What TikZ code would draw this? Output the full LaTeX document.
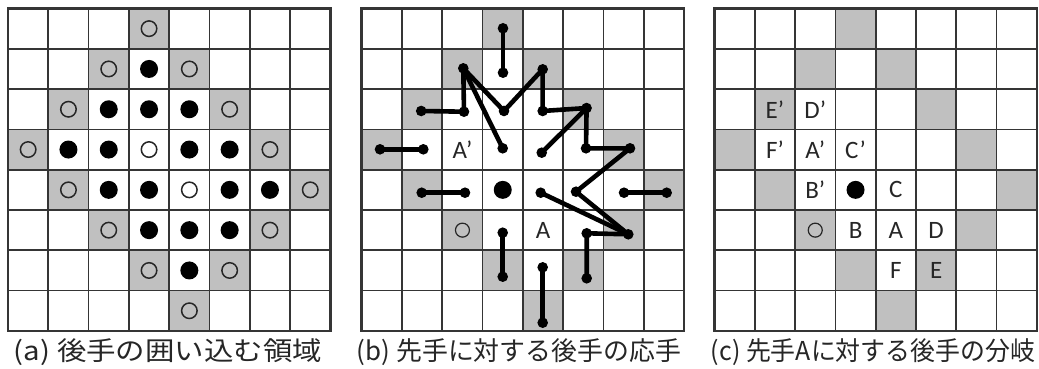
\documentclass[tikz,border=0pt]{standalone}
\usepackage{graphicx}
\usepackage{fontspec}
\setmainfont{Carlito}
\newfontfamily\cjk{Noto Sans CJK JP}
\definecolor{cellgray}{HTML}{C0C0C0}
\definecolor{gridcol}{HTML}{353535}
\tikzset{
  gridline/.style={draw=gridcol, line width=1.7pt},
  frameline/.style={draw=gridcol, line width=2.5pt},
  graycell/.style={fill=cellgray},
  opencirc/.style={circle, draw=black!85, line width=1.5pt, inner sep=0pt, minimum size=15.5pt},
  smallopen/.style={circle, draw=black!85, line width=1.2pt, inner sep=0pt, minimum size=14pt},
  bigdot/.style={circle, fill=black, inner sep=0pt, minimum size=18pt},
  movedot/.style={circle, fill=black, inner sep=0pt, minimum size=10.6pt},
  moveline/.style={line width=4.6pt, line join=round, line cap=round},
  lbl/.style={font=\fontsize{25}{25}\selectfont, inner sep=0pt, text=black!85},
  captext/.style={font=\cjk\fontsize{26}{26}\selectfont, inner sep=0pt, text=black!85},
}
\newcommand\boardbase{%
  \foreach \c/\r in {3/0,2/1,4/1,1/2,5/2,0/3,6/3,1/4,7/4,2/5,6/5,3/6,5/6,4/7}
    \fill[graycell] (\c,\r) rectangle ++(1,1);
  \foreach \i in {1,...,7} {
    \draw[gridline] (\i,0) -- (\i,8);
    \draw[gridline] (0,\i) -- (8,\i);
  }
  \draw[frameline] (0,0) rectangle (8,8);
}
\begin{document}
\begin{tikzpicture}[x=1pt, y=-1pt]
\fill[white] (0,0) rectangle (1039,369);
\useasboundingbox (0,0) rectangle (1039,369);

% ---------- (a) ----------
\begin{scope}[shift={(8pt,-8.5pt)}, x=40.3pt, y=-40.3pt]
  \boardbase
  \foreach \c/\r in {3/0,2/1,4/1,1/2,5/2,0/3,6/3,1/4,7/4,2/5,6/5,3/6,5/6,4/7,3/3,4/4}
    \node[opencirc] (ao-\c-\r) at (\c+.5,\r+.5) {};
  \foreach \c/\r in {3/1,2/2,3/2,4/2,1/3,2/3,4/3,5/3,2/4,3/4,5/4,6/4,3/5,4/5,5/5,4/6}
    \node[bigdot] (ab-\c-\r) at (\c+.5,\r+.5) {};
\end{scope}

% ---------- (b) ----------
\begin{scope}[shift={(361.7pt,-8.5pt)}, x=40.3pt, y=-40.3pt]
  \boardbase
  \node[bigdot] (bB) at (3.5,4.5) {};
  \node[smallopen] (bW) at (2.5,5.5) {};
  \node[lbl] (bAp) at (2.5,3.5) {A’};
  \node[lbl] (bA) at (4.5,5.5) {A};
  \foreach \n/\x/\y in {03/3.506/0.491, 13/3.506/1.593, 12/2.521/1.484, 21/1.476/2.543,
      22/2.538/2.561, 23/3.531/2.543, 14/4.491/1.509, 24/4.491/2.543, 25/5.58/2.47,
      34/4.467/3.578, 35/5.566/3.469, 36/6.658/3.469, 33/3.499/3.469, 30/0.454/3.494,
      31/1.529/3.494, 41/1.489/4.571, 42/2.563/4.571, 44/4.442/4.571, 45/5.318/4.546,
      46/6.509/4.571, 47/7.568/4.571, 56/6.615/5.603, 55/5.583/5.578, 65/5.583/6.695,
      53/3.499/5.563, 63/3.499/6.655, 64/4.491/6.422, 74/4.491/7.797}
    \node[movedot] (b\n) at (\x,\y) {};
  \draw[moveline] (b03.center) -- (b13.center);
  \draw[moveline] (b21.center) -- (b22.center) -- (b12.center);
  \draw[moveline] (b12.center) -- (b23.center) -- (b14.center) -- (b24.center)
      -- (b25.center) -- (b35.center) -- (b36.center) -- (b45.center)
      -- (b56.center) -- (b55.center) -- (b65.center);
  \draw[moveline] (b12.center) -- (b33.center);
  \draw[moveline] (b25.center) -- (b34.center);
  \draw[moveline] (b44.center) -- (b56.center);
  \draw[moveline] (b30.center) -- (b31.center);
  \draw[moveline] (b41.center) -- (b42.center);
  \draw[moveline] (b46.center) -- (b47.center);
  \draw[moveline] (b53.center) -- (b63.center);
  \draw[moveline] (b64.center) -- (b74.center);
\end{scope}

% ---------- (c) ----------
\begin{scope}[shift={(714.5pt,-8.5pt)}, x=40.3pt, y=-40.3pt]
  \boardbase
  \node[bigdot] (cB) at (3.5,4.5) {};
  \node[smallopen] (cW) at (2.5,5.5) {};
  \node[lbl] (cEp) at (1.5,2.5) {E’};
  \node[lbl] (cDp) at (2.5,2.5) {D’};
  \node[lbl] (cFp) at (1.5,3.5) {F’};
  \node[lbl] (cAp) at (2.5,3.5) {A’};
  \node[lbl] (cCp) at (3.5,3.5) {C’};
  \node[lbl] (cBp) at (2.5,4.5) {B’};
  \node[lbl] (cC) at (4.5,4.5) {C};
  \node[lbl] (cBB) at (3.5,5.5) {B};
  \node[lbl] (cA) at (4.5,5.5) {A};
  \node[lbl] (cD) at (5.5,5.5) {D};
  \node[lbl] (cF) at (4.5,6.5) {F};
  \node[lbl] (cE) at (5.5,6.5) {E};
\end{scope}

% ---------- captions ----------
\node[captext] (capa) at (168,352) {\resizebox{308pt}{\height}{(a) 後手の囲い込む領域}};
\node[captext] (capb) at (519,352) {\resizebox{324pt}{\height}{(b) 先手に対する後手の応手}};
\node[captext] (capc) at (873,352) {\resizebox{324pt}{\height}{(c) 先手Aに対する後手の分岐}};
\end{tikzpicture}
\end{document}
